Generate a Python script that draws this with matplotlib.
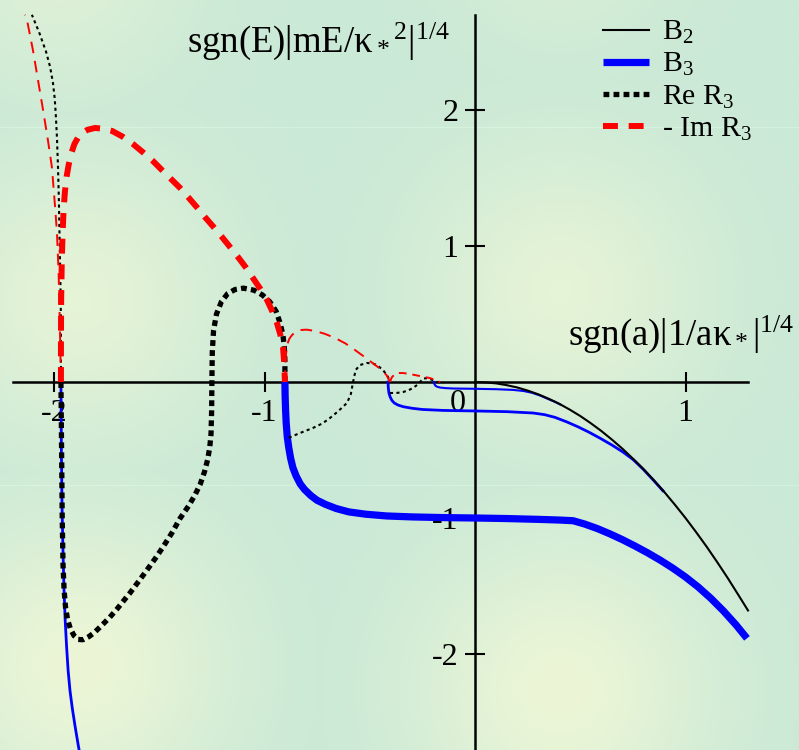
import numpy as np
import matplotlib
matplotlib.use("Agg")
import matplotlib.pyplot as plt

plt.rcParams['font.family'] = ['Liberation Serif', 'DejaVu Serif']
plt.rcParams['mathtext.fontset'] = 'custom'
plt.rcParams['mathtext.rm'] = 'Liberation Serif'
plt.rcParams['mathtext.it'] = 'Liberation Serif:italic'
plt.rcParams['mathtext.bf'] = 'Liberation Serif:bold'
plt.rcParams['axes.unicode_minus'] = False

# ---------------- data ----------------
b2_x = [0.0, 0.05, 0.1, 0.15, 0.2, 0.25, 0.3, 0.35, 0.4, 0.45, 0.5, 0.55, 0.6, 0.65, 0.7, 0.75,
        0.8, 0.85, 0.9, 0.95, 1.0, 1.05, 1.1, 1.15, 1.2, 1.25, 1.297]
b2_y = [0.0, -0.003, -0.01, -0.023, -0.04, -0.063, -0.09, -0.123, -0.16, -0.203, -0.25, -0.303,
        -0.36, -0.423, -0.49, -0.563, -0.64, -0.723, -0.81, -0.903, -1.0, -1.103, -1.21, -1.323,
        -1.44, -1.563, -1.68]

# B3 branches
b3a_x = [-0.903, -0.902, -0.900, -0.897, -0.892, -0.885, -0.876, -0.865, -0.850, -0.83, -0.81,
         -0.78, -0.75, -0.71, -0.66, -0.60, -0.52, -0.42, -0.30, -0.15, 0.0, 0.15, 0.30, 0.40,
         0.466, 0.52, 0.58, 0.64, 0.70, 0.76, 0.82, 0.88, 0.94, 1.00, 1.06, 1.12, 1.18, 1.24, 1.292]
b3a_y = [0.0, -0.10, -0.20, -0.30, -0.40, -0.48, -0.56, -0.63, -0.69, -0.75, -0.79,
         -0.835, -0.87, -0.90, -0.93, -0.955, -0.972, -0.985, -0.992, -0.997, -1.0, -1.004, -1.01, -1.015,
         -1.02, -1.044, -1.077, -1.116, -1.159, -1.206, -1.256, -1.310, -1.369, -1.434, -1.507, -1.590,
         -1.683, -1.786, -1.885]

b3b_x = [-0.413, -0.412, -0.409, -0.403, -0.395, -0.383, -0.365, -0.34, -0.30, -0.25, -0.15, 0.0,
         0.15, 0.276, 0.33, 0.38, 0.437, 0.49, 0.54, 0.594, 0.65, 0.70, 0.751, 0.80, 0.85, 0.893]
b3b_y = [0.0, -0.04, -0.08, -0.11, -0.135, -0.155, -0.17, -0.182, -0.193, -0.202, -0.209, -0.213,
         -0.218, -0.228, -0.24, -0.26, -0.294, -0.330, -0.368, -0.413, -0.463, -0.512, -0.570, -0.643,
         -0.726, -0.80]

b3c_x = [-0.195, -0.193, -0.188, -0.18, -0.165, -0.14, -0.10, 0.0, 0.10, 0.18, 0.23, 0.27, 0.31,
         0.35, 0.38, 0.404]
b3c_y = [0.0, -0.015, -0.027, -0.035, -0.041, -0.045, -0.048, -0.05, -0.053, -0.058, -0.066,
         -0.079, -0.10, -0.127, -0.146, -0.165]

b3d_x = [-1.967, -1.965, -1.962, -1.958, -1.953, -1.947, -1.940, -1.933, -1.924, -1.913, -1.900,
         -1.886, -1.870]
b3d_y = [0.0, -0.5, -0.9, -1.2, -1.5, -1.75, -1.95, -2.12, -2.27, -2.40, -2.53, -2.66, -2.80]

# Re R3
re1_x = [-0.903, -0.903, -0.906, -0.912, -0.925, -0.945, -0.975, -1.01, -1.05, -1.10, -1.14, -1.175,
         -1.205, -1.228, -1.242, -1.248, -1.250, -1.251, -1.254, -1.260, -1.270, -1.285, -1.305,
         -1.33, -1.36, -1.40, -1.44, -1.482, -1.52, -1.558, -1.60, -1.639, -1.67, -1.701, -1.735,
         -1.767, -1.79, -1.81, -1.835, -1.862, -1.885, -1.905, -1.922, -1.935, -1.945, -1.952,
         -1.957, -1.961, -1.964, -1.967]
re1_y = [0.0, 0.16, 0.26, 0.34, 0.43, 0.52, 0.59, 0.64, 0.675, 0.69, 0.68, 0.65,
         0.59, 0.50, 0.38, 0.22, 0.0, -0.20, -0.38, -0.48, -0.57, -0.66, -0.75,
         -0.83, -0.91, -1.0, -1.11, -1.213, -1.30, -1.382, -1.47, -1.551, -1.61, -1.67, -1.73,
         -1.78, -1.815, -1.845, -1.873, -1.895, -1.893, -1.865, -1.815, -1.75, -1.66, -1.53,
         -1.35, -1.0, -0.5, 0.0]

re0_x = [-1.967, -1.967, -1.968, -1.971, -1.974, -1.977, -1.981, -1.986, -1.992, -1.997, -2.005,
         -2.019, -2.038, -2.052, -2.068, -2.081, -2.105]
re0_y = [0.0, 0.3, 0.6, 0.85, 1.1, 1.35, 1.58, 1.8, 1.98, 2.09, 2.2, 2.32, 2.43, 2.49, 2.56,
         2.61, 2.70]

re2_x = [-0.885, -0.831, -0.770, -0.725, -0.689, -0.650, -0.608, -0.590, -0.580, -0.574, -0.566,
         -0.546, -0.513, -0.485, -0.466, -0.437, -0.413, -0.404]
re2_y = [-0.41, -0.375, -0.338, -0.305, -0.265, -0.215, -0.154, -0.09, -0.007, 0.04, 0.09,
         0.125, 0.140, 0.135, 0.125, 0.088, 0.037, -0.007]

re3_x = [-0.404, -0.370, -0.342, -0.315, -0.295, -0.275, -0.261, -0.247, -0.230, -0.214, -0.195,
         -0.181, -0.15]
re3_y = [-0.081, -0.080, -0.074, -0.060, -0.044, -0.022, 0.0, 0.025, 0.028, 0.022, 0.010,
         0.0, -0.005]

# - Im R3
im1_x = [-1.967, -1.967, -1.966, -1.963, -1.959, -1.954, -1.948, -1.940, -1.930, -1.918, -1.903,
         -1.885, -1.867, -1.84, -1.805, -1.765, -1.724, -1.675, -1.625, -1.578, -1.530, -1.485,
         -1.439, -1.40, -1.363, -1.323, -1.283, -1.242, -1.202, -1.165, -1.126, -1.09, -1.055,
         -1.02, -0.988, -0.963, -0.941, -0.925, -0.912, -0.906, -0.903]
im1_y = [0.0, 0.3, 0.6, 0.9, 1.1, 1.28, 1.40, 1.51, 1.60, 1.68, 1.75,
         1.80, 1.831, 1.855, 1.868, 1.862, 1.846, 1.805, 1.75, 1.69, 1.625, 1.555,
         1.485, 1.425, 1.36, 1.288, 1.213, 1.14, 1.066, 0.995, 0.919, 0.845, 0.765,
         0.685, 0.603, 0.52, 0.434, 0.35, 0.257, 0.13, 0.0]

im0_x = [-1.967, -1.972, -1.978, -1.986, -1.995, -2.010, -2.029, -2.052, -2.076, -2.100, -2.128,
         -2.138]
im0_y = [0.0, 0.4, 0.8, 1.1, 1.29, 1.58, 1.78, 2.0, 2.22, 2.44, 2.66, 2.70]

im2_x = [-0.903, -0.900, -0.893, -0.882, -0.869, -0.850, -0.831, -0.800, -0.760, -0.715, -0.665,
         -0.615, -0.570, -0.530, -0.499, -0.470, -0.442, -0.420, -0.404]
im2_y = [0.0, 0.17, 0.272, 0.318, 0.346, 0.370, 0.382, 0.385, 0.375, 0.355, 0.324,
         0.283, 0.235, 0.19, 0.154, 0.12, 0.088, 0.05, 0.0]

im3_x = [-0.404, -0.395, -0.380, -0.362, -0.342, -0.315, -0.285, -0.250, -0.214, -0.195, -0.181,
         -0.166]
im3_y = [0.0, 0.035, 0.059, 0.066, 0.066, 0.06, 0.051, 0.04, 0.029, 0.018, 0.007, 0.0]

x_ticks = [-2, -1, 1]
x_tick_labels = ['-2', '-1', '1']
y_ticks = [-2, -1, 1, 2]
y_tick_labels = ['-2', '-1', '1', '2']

# ---------------- figure ----------------
W, H = 799, 750
fig = plt.figure(figsize=(W / 100, H / 100), dpi=100)

# background
bg = fig.add_axes([0, 0, 1, 1])
bg.axis('off')
yy, xx = np.mgrid[0:H, 0:W]
base = np.array([202, 233, 214]) / 255.0
yel = np.array([236, 246, 214]) / 255.0
wgt = np.zeros((H, W))
for cx, cy, s, a in [(80, 300, 100, 0.8), (560, 290, 100, 0.8), (80, 665, 105, 1.0),
                     (560, 690, 105, 1.0), (60, -40, 90, 0.6), (560, -60, 80, 0.4)]:
    wgt = np.maximum(wgt, a * np.exp(-((xx - cx) ** 2 + (yy - cy) ** 2) / (2 * s ** 2)))
img = base[None, None, :] * (1 - wgt[..., None]) + yel[None, None, :] * wgt[..., None]
for ly in (127, 485):
    img[ly, :, :] = np.minimum(img[ly, :, :] + 0.035, 1)
bg.imshow(img, aspect='auto', extent=(0, W, H, 0), interpolation='bilinear')
bg.set_xlim(0, W)
bg.set_ylim(H, 0)

ax = fig.add_axes([0, 0, 1, 1])
ax.patch.set_alpha(0)
ax.set_xlim(-475 / 210.5, (W - 475) / 210.5)
ax.set_ylim(-(H - 382) / 136.0, 382 / 136.0)

for s in ('top', 'right'):
    ax.spines[s].set_visible(False)
ax.spines['left'].set_position(('data', 0))
ax.spines['bottom'].set_position(('data', 0))
ax.spines['left'].set_bounds(-2.71, 2.70)
ax.spines['bottom'].set_bounds(-2.195, 1.297)
for s in ('left', 'bottom'):
    ax.spines[s].set_linewidth(1.8)
    ax.spines[s].set_zorder(1)

ax.set_xticks(x_ticks)
ax.set_xticklabels(x_tick_labels)
ax.set_yticks(y_ticks)
ax.set_yticklabels(y_tick_labels)
ax.tick_params(axis='both', direction='inout', length=14, width=1.5, labelsize=23)
ax.tick_params(axis='x', pad=5)
ax.tick_params(axis='y', pad=5)
ax.text(-0.045, -0.05, '0', ha='right', va='top', fontsize=23)

# curves
ax.plot(b3d_x, b3d_y, color='#0000ff', lw=2.0, zorder=3)
ax.plot(b3a_x, b3a_y, color='#0000ff', lw=5.2, zorder=3, label='B$_3$', solid_capstyle='butt')
ax.plot(b3b_x, b3b_y, color='#0000ff', lw=2.0, zorder=3)
ax.plot(b3c_x, b3c_y, color='#0000ff', lw=1.5, zorder=3)
ax.plot(b2_x, b2_y, color='black', lw=1.5, zorder=4, label='B$_2$')

ax.plot(re1_x, re1_y, color='black', lw=3.8, dashes=(1.1, 0.8), zorder=5, label='Re R$_3$',
        dash_capstyle='butt')
ax.plot(re0_x, re0_y, color='black', lw=1.5, dashes=(1.5, 1.6), zorder=5)
ax.plot(re2_x, re2_y, color='black', lw=1.5, dashes=(1.5, 1.6), zorder=5)
ax.plot(re3_x, re3_y, color='black', lw=1.5, dashes=(1.5, 1.6), zorder=5)

ax.plot(im1_x, im1_y, color='#ff0000', lw=4.3, dashes=(2.5, 1.8), zorder=6, label='- Im R$_3$')
ax.plot(im0_x, im0_y, color='#ff0000', lw=1.4, dashes=(6, 4), zorder=6)
ax.plot(im2_x, im2_y, color='#ff0000', lw=1.4, dashes=(6, 4), zorder=6)
ax.plot(im3_x, im3_y, color='#ff0000', lw=1.4, dashes=(4, 3), zorder=6)

handles, labels = ax.get_legend_handles_labels()
order = [labels.index(l) for l in ['B$_2$', 'B$_3$', 'Re R$_3$', '- Im R$_3$']]
ax.legend([handles[i] for i in order], [labels[i] for i in order],
          loc='upper left', bbox_to_anchor=(603 / W, 1 - 19 / H), bbox_transform=fig.transFigure,
          frameon=False, fontsize=21.5, handlelength=1.55, handletextpad=0.42,
          labelspacing=0.17, borderpad=0, borderaxespad=0)

fig.text(450 / W, 1 - 52 / H, 'sgn(E)|mE/κ$_*$$^2$|$^{1/4}$', ha='right', va='baseline', fontsize=26.5)
fig.text(568 / W, 1 - 345 / H, 'sgn(a)|1/aκ$_*$|$^{1/4}$', ha='left', va='baseline', fontsize=26.5)

fig.savefig('out.png', dpi=100)
